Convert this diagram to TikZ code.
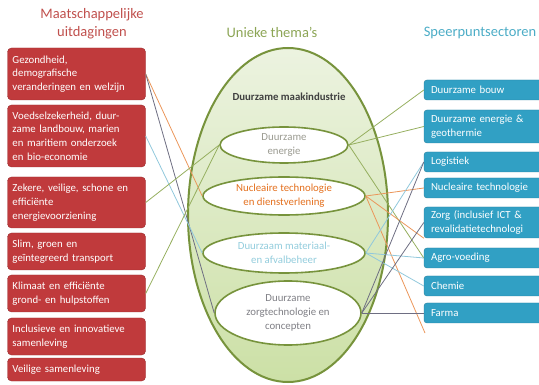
\documentclass[tikz,border=0pt]{standalone}
\usepackage{fontspec}
\setmainfont{Carlito}
\usetikzlibrary{shapes.geometric}

\definecolor{uitdRed}{RGB}{192,58,60}
\definecolor{uitdTitle}{RGB}{192,80,77}
\definecolor{sectBlue}{RGB}{49,160,196}
\definecolor{sectTitle}{RGB}{75,172,198}
\definecolor{themaGreen}{RGB}{119,147,60}
\definecolor{themaTitle}{RGB}{140,165,85}
\definecolor{themaFillA}{RGB}{236,243,224}
\definecolor{themaFillB}{RGB}{204,224,166}
\definecolor{energieTxt}{RGB}{155,155,145}
\definecolor{nucTxt}{RGB}{228,112,30}
\definecolor{matTxt}{RGB}{147,205,221}
\definecolor{zorgTxt}{RGB}{128,128,134}
\definecolor{lnOrange}{RGB}{235,150,90}
\definecolor{lnGreen}{RGB}{150,175,95}
\definecolor{lnBlue}{RGB}{145,200,220}
\definecolor{lnGray}{RGB}{110,110,130}

\tikzset{
  uitdaging/.style={draw=uitdRed!80!black, fill=uitdRed, rounded corners=4pt, text=white,
    text width=128pt, align=left, inner xsep=5pt, inner ysep=0pt,
    font=\fontsize{10.8}{13.8}\selectfont},
  sector/.style={draw=sectBlue!80!black, fill=sectBlue, rounded corners=3pt, text=white,
    text width=112pt, align=left, inner xsep=7pt, inner ysep=0pt,
    font=\fontsize{10.8}{13.8}\selectfont},
  thema/.style={ellipse, draw=themaGreen, line width=1.6pt, fill=white, inner sep=0pt,
    align=center, font=\fontsize{10.8}{14}\selectfont},
  titel/.style={align=center, font=\fontsize{14.5}{18}\selectfont},
  orangeline/.style={draw=lnOrange, line width=0.8pt},
  greenline/.style={draw=lnGreen, line width=0.8pt},
  blueline/.style={draw=lnBlue, line width=0.8pt},
  grayline/.style={draw=lnGray, line width=0.8pt},
}

\begin{document}
\begin{tikzpicture}[x=1pt,y=-1pt]
	\useasboundingbox (0,0) rectangle (539,385);

	% titels
	\node[titel,text=uitdTitle] (titelUitd) at (92,24) {Maatschappelijke\\uitdagingen};
	\node[titel,text=themaTitle] (titelThema) at (272,32) {Unieke thema’s};
	\node[titel,text=sectTitle] (titelSect) at (480,33) {Speerpuntsectoren};

	% maatschappelijke uitdagingen
	\node[uitdaging,minimum height=52pt] (gezondheid) at (76.5,74)    {Gezondheid,\\demografische\\veranderingen en welzijn};
	\node[uitdaging,minimum height=62pt] (voedsel)    at (76.5,136)   {Voedselzekerheid, duur-\\zame landbouw, marien\\en maritiem onderzoek\\en bio-economie};
	\node[uitdaging,minimum height=51pt] (energievz)  at (76.5,202.5) {Zekere, veilige, schone en\\efficiënte\\energievoorziening};
	\node[uitdaging,minimum height=37pt] (transport)  at (76.5,251.5) {Slim, groen en\\geïntegreerd transport};
	\node[uitdaging,minimum height=37pt] (klimaat)    at (76.5,293.5) {Klimaat en efficiënte\\grond- en hulpstoffen};
	\node[uitdaging,minimum height=37pt] (inclusief)  at (76.5,336.5) {Inclusieve en innovatieve\\samenleving};
	\node[uitdaging,minimum height=23pt] (veilig)     at (76.5,369.5) {Veilige samenleving};

	% unieke thema's
	\node[ellipse,draw=themaGreen,line width=2pt,top color=themaFillA,bottom color=themaFillB,
		minimum width=200pt,minimum height=334pt,inner sep=0pt] (maak) at (288,215) {};
	\node[font=\fontsize{10.8}{13}\selectfont\bfseries,text=black!75] (maakTxt) at (289,97) {Duurzame maakindustrie};
	\node[thema,text=energieTxt,minimum width=128pt,minimum height=36pt] (energie)   at (284,145) {Duurzame\\energie};
	\node[thema,text=nucTxt,minimum width=162pt,minimum height=38pt]     (nucleair)  at (284,196) {Nucleaire technologie\\en dienstverlening};
	\node[thema,text=matTxt,minimum width=162pt,minimum height=40pt]     (materiaal) at (284,253) {Duurzaam materiaal-\\en afvalbeheer};
	\node[thema,text=zorgTxt,minimum width=146pt,minimum height=64pt]    (zorgtech)  at (288,313) {Duurzame\\zorgtechnologie en\\concepten};

	% speerpuntsectoren
	\node[sector,minimum height=20pt] (bouw)      at (487,90)    {Duurzame bouw};
	\node[sector,minimum height=33pt] (geo)       at (487,126.5) {Duurzame energie \&\\geothermie};
	\node[sector,minimum height=20pt] (logistiek) at (487,162)   {Logistiek};
	\node[sector,minimum height=20pt] (nuctech)   at (487,188)   {Nucleaire technologie};
	\node[sector,minimum height=31pt] (zorg)      at (487,222.5) {Zorg (inclusief ICT \&\\revalidatietechnologi};
	\node[sector,minimum height=20pt] (agro)      at (487,258)   {Agro-voeding};
	\node[sector,minimum height=20pt] (chemie)    at (487,286)   {Chemie};
	\node[sector,minimum height=20pt] (farma)     at (487,313)   {Farma};
	\coordinate (einde) at (425,333);

	% links
	\path[orangeline] (gezondheid.east) edge (nucleair.west);
	\path[grayline]   (gezondheid.east) edge (zorgtech.west);
	\path[blueline]   (voedsel.east)    edge (materiaal.west);
	\path[greenline]  (energievz.east)  edge (energie.west);
	\path[greenline]  (klimaat.east)    edge (energie.west);

	% rechts
	\path[greenline]  (energie.east)   edge (bouw.west);
	\path[greenline]  (energie.east)   edge (geo.west);
	\path[greenline]  (energie.east)   edge (agro.west);
	\path[orangeline] (nucleair.east)  edge (nuctech.west);
	\path[orangeline] (nucleair.east)  edge (zorg.south west);
	\path[orangeline] (nucleair.east)  edge (einde);
	\path[blueline]   (materiaal.east) edge (logistiek.west);
	\path[blueline]   (materiaal.east) edge (agro.west);
	\path[blueline]   (materiaal.east) edge (chemie.west);
	\path[grayline]   (zorgtech.east)  edge (logistiek.west);
	\path[grayline]   (zorgtech.east)  edge (zorg.west);
	\path[grayline]   (zorgtech.east)  edge (farma.west);
\end{tikzpicture}
\end{document}
